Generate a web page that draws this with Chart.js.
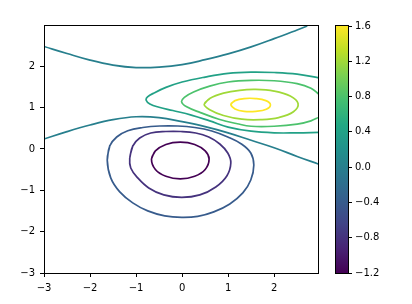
<!DOCTYPE html>
<html>
<head>
<meta charset="utf-8">
<script src="https://cdn.jsdelivr.net/npm/chart.js@4/dist/chart.umd.min.js"></script>
<style>
  html, body { margin: 0; padding: 0; background: #fff; }
  #wrap { position: relative; width: 412px; height: 304px; }
  #wrap canvas { position: absolute; left: 0; top: 0; }
</style>
</head>
<body>
<div id="wrap">
  <canvas id="main" width="412" height="304"></canvas>
  <canvas id="cbar" width="412" height="304"></canvas>
</div>
<script>
// ---- data ----
const levels = [-1.2, -0.8, -0.4, 0.0, 0.4, 0.8, 1.2, 1.6];
const xTicks = [-3, -2, -1, 0, 1, 2];
const yTicks = [-3, -2, -1, 0, 1, 2];
const cbTicks = [-1.2, -0.8, -0.4, 0.0, 0.4, 0.8, 1.2, 1.6];

// contour level -1.2 (closed)
const contourM12 = [[-0.665,-0.242],[-0.58,-0.048],[-0.352,0.109],[-0.039,0.164],[0.274,0.109],[0.502,-0.048],[0.587,-0.242],[0.502,-0.495],[0.274,-0.659],[-0.039,-0.722],[-0.352,-0.659],[-0.58,-0.495]];
// contour level -0.8 (closed)
const contourM08 = [[-1.137,-0.217],[-1.072,0.072],[-0.92,0.266],[-0.68,0.386],[-0.354,0.423],[-0.028,0.423],[0.298,0.386],[0.58,0.29],[0.82,0.121],[0.993,-0.097],[1.059,-0.338],[0.972,-0.652],[0.733,-0.918],[0.385,-1.111],[-0.007,-1.171],[-0.398,-1.111],[-0.724,-0.942],[-0.963,-0.7],[-1.115,-0.459]];
// contour level -0.4 (closed)
const contourM04 = [[-1.626,-0.266],[-1.572,0.072],[-1.42,0.29],[-1.18,0.44],[-0.854,0.519],[-0.485,0.556],[-0.093,0.556],[0.276,0.519],[0.646,0.435],[0.993,0.29],[1.298,0.115],[1.493,-0.097],[1.559,-0.386],[1.493,-0.749],[1.32,-1.063],[1.037,-1.329],[0.689,-1.522],[0.341,-1.63],[-0.007,-1.655],[-0.376,-1.618],[-0.746,-1.498],[-1.072,-1.304],[-1.354,-1.039],[-1.55,-0.7]];
// contour level 0.0 (two open pieces)
const contour0Upper = [[-3,2.48],[-2.5,2.31],[-2,2.15],[-1.5,2.03],[-1,1.97],[-0.5,1.98],[0,2.04],[0.5,2.16],[1,2.30],[1.5,2.47],[2,2.67],[2.5,2.88],[2.72,2.975]];
const contour0Lower = [[-3,0.24],[-2.5,0.42],[-2,0.58],[-1.5,0.71],[-1,0.78],[-0.5,0.76],[0,0.66],[0.5,0.54],[1,0.39],[1.5,0.21],[2,0.03],[2.5,-0.18],[2.975,-0.37]];
// contour level 0.4 (open at right edge)
const contour04 = [[2.975,1.72],[2.5,1.81],[2,1.85],[1.5,1.86],[1,1.83],[0.5,1.74],[0,1.62],[-0.35,1.49],[-0.6,1.36],[-0.75,1.26],[-0.78,1.18],[-0.7,1.09],[-0.5,1.01],[-0.2,0.93],[0.2,0.82],[0.6,0.68],[1,0.53],[1.5,0.43],[2,0.39],[2.5,0.39],[2.975,0.40]];
// contour level 0.8 (open at right edge)
const contour08 = [[2.975,1.32],[2.8,1.47],[2.5,1.58],[2,1.65],[1.5,1.66],[1,1.62],[0.6,1.52],[0.25,1.38],[0.05,1.25],[-0.01,1.14],[0.1,1.02],[0.4,0.88],[0.8,0.72],[1.2,0.61],[1.5,0.55],[2,0.55],[2.5,0.6],[2.8,0.68],[2.975,0.77]];
// contour level 1.2 (closed)
const contour12 = [[0.48,1.08],[0.6,1.22],[0.9,1.35],[1.25,1.42],[1.6,1.44],[2.0,1.40],[2.35,1.28],[2.52,1.10],[2.42,0.90],[2.1,0.76],[1.7,0.71],[1.3,0.72],[0.9,0.81],[0.6,0.95]];
// contour level 1.6 (closed)
const contour16 = [[1.06,1.08],[1.15,1.17],[1.35,1.22],[1.6,1.22],[1.82,1.17],[1.92,1.07],[1.83,0.96],[1.6,0.91],[1.35,0.91],[1.15,0.97]];

const pieces = [
  { level: -1.2, pts: contourM12, closed: true },
  { level: -0.8, pts: contourM08, closed: true },
  { level: -0.4, pts: contourM04, closed: true },
  { level: 0.0, pts: contour0Upper, closed: false },
  { level: 0.0, pts: contour0Lower, closed: false },
  { level: 0.4, pts: contour04, closed: false },
  { level: 0.8, pts: contour08, closed: false },
  { level: 1.2, pts: contour12, closed: true },
  { level: 1.6, pts: contour16, closed: true }
];

// ---- colormap (viridis) ----
const VIRIDIS = ['#440154','#482475','#414487','#355f8d','#2a788e','#21918c','#22a884','#44bf70','#7ad151','#bddf26','#fde725'];
function hexToRgb(h){ return [parseInt(h.slice(1,3),16),parseInt(h.slice(3,5),16),parseInt(h.slice(5,7),16)]; }
function viridis(t){
  t = Math.max(0, Math.min(1, t));
  const f = t * (VIRIDIS.length - 1);
  const i = Math.min(Math.floor(f), VIRIDIS.length - 2);
  const u = f - i;
  const a = hexToRgb(VIRIDIS[i]), b = hexToRgb(VIRIDIS[i+1]);
  const c = a.map((v,k)=>Math.round(v + (b[k]-v)*u));
  return `rgb(${c[0]},${c[1]},${c[2]})`;
}
const lmin = levels[0], lmax = levels[levels.length-1];
const levelColor = l => viridis((l - lmin) / (lmax - lmin));

const fmt = v => {
  const s = Number.isInteger(v) ? String(Math.abs(v)) : Math.abs(v).toFixed(1);
  return (v < 0 ? '\u2212' : '') + s;
};
const fmt1 = v => (v < -1e-9 ? '\u2212' : '') + Math.abs(v).toFixed(1);

const FONT = { family: 'DejaVu Sans', size: 10 };

const datasets = pieces.map(p => {
  let pts = p.pts.map(([x,y]) => ({x, y}));
  if (p.closed) pts = pts.concat([pts[0], pts[1]]);
  return {
    data: pts,
    showLine: true,
    borderColor: levelColor(p.level),
    borderWidth: 1.7,
    pointRadius: 0,
    pointHoverRadius: 0,
    tension: 0.4,
    fill: false
  };
});

const framePlugin = {
  id: 'frame',
  afterDatasetsDraw(chart) {
    const { ctx, chartArea: a } = chart;
    ctx.save();
    ctx.strokeStyle = '#000';
    ctx.lineWidth = 1;
    ctx.strokeRect(Math.round(a.left) + 0.5, Math.round(a.top) - 0.5, Math.round(a.right) - Math.round(a.left) - 1, Math.round(a.bottom) - Math.round(a.top) + 1);
    ctx.restore();
  }
};

new Chart(document.getElementById('main'), {
  type: 'scatter',
  data: { datasets },
  options: {
    responsive: false,
    animation: false,
    events: [],
    layout: { padding: { left: 0, top: 26, right: 93, bottom: 0 } },
    plugins: { legend: { display: false }, tooltip: { enabled: false } },
    scales: {
      x: {
        type: 'linear', min: -3, max: 2.975,
        afterBuildTicks: s => { s.ticks = xTicks.map(v => ({ value: v })); },
        afterFit: s => { s.height = 31; },
        ticks: { callback: v => fmt(v), font: FONT, color: '#000', padding: 5, maxRotation: 0, autoSkip: false },
        grid: { display: true, drawOnChartArea: false, drawTicks: true, tickLength: 4, color: '#000', lineWidth: 1 },
        border: { display: false }
      },
      y: {
        type: 'linear', min: -3, max: 2.975,
        afterBuildTicks: s => { s.ticks = yTicks.map(v => ({ value: v })); },
        afterFit: s => { s.width = 44; },
        ticks: { callback: v => fmt(v), font: FONT, color: '#000', padding: 5, autoSkip: false },
        grid: { display: true, drawOnChartArea: false, drawTicks: true, tickLength: 4, color: '#000', lineWidth: 1 },
        border: { display: false }
      }
    }
  },
  plugins: [framePlugin]
});

// ---- colorbar ----
const cbOutline = {
  id: 'cbOutline',
  afterDatasetsDraw(chart) {
    const { ctx, chartArea: a } = chart;
    ctx.save();
    ctx.strokeStyle = '#000';
    ctx.lineWidth = 1;
    ctx.strokeRect(Math.round(a.left) - 0.5, Math.round(a.top) - 0.5, Math.round(a.right) - Math.round(a.left) + 1, Math.round(a.bottom) - Math.round(a.top) + 1);
    ctx.restore();
  }
};

new Chart(document.getElementById('cbar'), {
  type: 'bar',
  data: {
    labels: [''],
    datasets: [{
      data: [[cbTicks[0], cbTicks[cbTicks.length-1]]],
      backgroundColor: (c) => {
        const a = c.chart.chartArea;
        if (!a) return VIRIDIS[0];
        const g = c.chart.ctx.createLinearGradient(0, a.bottom, 0, a.top);
        VIRIDIS.forEach((col, i) => g.addColorStop(i / (VIRIDIS.length - 1), col));
        return g;
      },
      borderWidth: 0,
      barPercentage: 1,
      categoryPercentage: 1
    }]
  },
  options: {
    responsive: false,
    animation: false,
    events: [],
    layout: { padding: { left: 336, top: 26, right: 0, bottom: 31 } },
    plugins: { legend: { display: false }, tooltip: { enabled: false } },
    scales: {
      x: { display: false },
      y: {
        position: 'right', min: cbTicks[0], max: cbTicks[cbTicks.length-1],
        afterBuildTicks: s => { s.ticks = cbTicks.map(v => ({ value: v })); },
        afterFit: s => { s.width = 64; },
        ticks: { callback: v => fmt1(v), font: FONT, color: '#000', padding: 3, autoSkip: false },
        grid: { display: true, drawOnChartArea: false, drawTicks: true, tickLength: 4, color: '#000', lineWidth: 1 },
        border: { display: false }
      }
    }
  },
  plugins: [cbOutline]
});
</script>
</body>
</html>
